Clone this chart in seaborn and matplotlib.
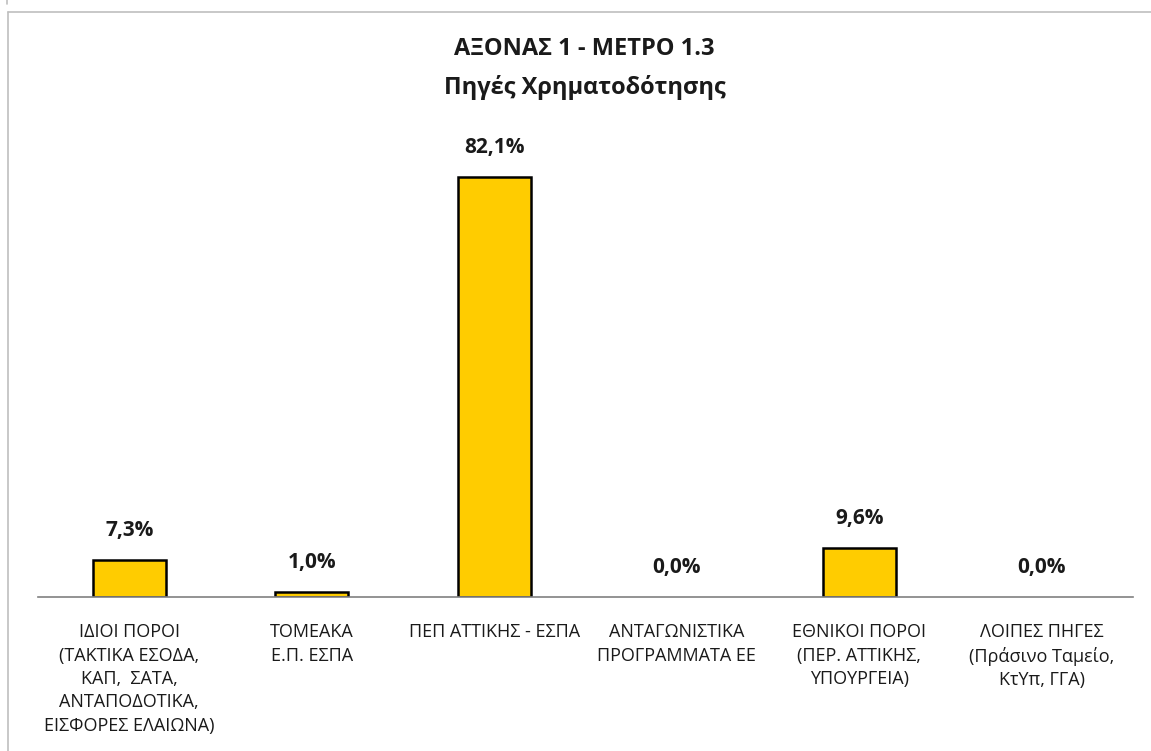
import pandas as pd
import numpy as np
import matplotlib.pyplot as plt
import seaborn as sns
from matplotlib.lines import Line2D

# data
categories = [
    "ΙΔΙΟΙ ΠΟΡΟΙ\n(ΤΑΚΤΙΚΑ ΕΣΟΔΑ,\nΚΑΠ,  ΣΑΤΑ,\nΑΝΤΑΠΟΔΟΤΙΚΑ,\nΕΙΣΦΟΡΕΣ ΕΛΑΙΩΝΑ)",
    "ΤΟΜΕΑΚΑ\nΕ.Π. ΕΣΠΑ",
    "ΠΕΠ ΑΤΤΙΚΗΣ - ΕΣΠΑ",
    "ΑΝΤΑΓΩΝΙΣΤΙΚΑ\nΠΡΟΓΡΑΜΜΑΤΑ ΕΕ",
    "ΕΘΝΙΚΟΙ ΠΟΡΟΙ\n(ΠΕΡ. ΑΤΤΙΚΗΣ,\nΥΠΟΥΡΓΕΙΑ)",
    "ΛΟΙΠΕΣ ΠΗΓΕΣ\n(Πράσινο Ταμείο,\nΚτΥπ, ΓΓΑ)",
]
shares = [7.3, 1.0, 82.1, 0.0, 9.6, 0.0]
title_1 = "ΑΞΟΝΑΣ 1 - ΜΕΤΡΟ 1.3"
title_2 = "Πηγές Χρηματοδότησης"

df = pd.DataFrame({"cat": categories, "share": shares})

sns.set_style("white")
plt.rcParams['font.family'] = ['Open Sans', 'DejaVu Sans']

fig = plt.figure(figsize=(11.51, 7.51), dpi=100)
ax = fig.add_axes([0.033, 0.205, 0.9515, 0.613])

sns.barplot(data=df, x="cat", y="share", color="#FFCC00", saturation=1,
            edgecolor="black", linewidth=1.8, width=0.4, ax=ax)
# empty bars show no outline
for p, v in zip(ax.patches, shares):
    if v == 0:
        p.set_linewidth(0)

ax.set_ylim(0, 90)
ax.set_xlim(-0.5, len(categories) - 0.5)
ax.set_xlabel("")
ax.set_ylabel("")
ax.set_yticks([])
for s in ["top", "right", "left"]:
    ax.spines[s].set_visible(False)
ax.spines["bottom"].set_color("#808080")
ax.spines["bottom"].set_linewidth(1.2)
ax.tick_params(axis="x", length=0, pad=19, labelsize=13, labelcolor="#1a1a1a")
for t in ax.get_xticklabels():
    t.set_linespacing(1.38)
    t.set_va("top")

# value labels
for i, v in enumerate(shares):
    ax.annotate(f"{v:.1f}%".replace(".", ","), (i, v), xytext=(0, 21),
                textcoords="offset points", ha="center", va="center",
                fontsize=15, fontweight="bold", color="#1a1a1a", clip_on=False)

# titles
fig.text(0.508, 0.935, title_1, ha="center", va="center", fontsize=17, fontweight="bold", color="#1a1a1a")
fig.text(0.508, 0.884, title_2, ha="center", va="center", fontsize=17, fontweight="bold", color="#1a1a1a")

# chart frame
fig.add_artist(Line2D([8/1151, 1.0], [1 - 12/751, 1 - 12/751], color="#BFBFBF", lw=1.2))
fig.add_artist(Line2D([8/1151, 8/1151], [0, 1 - 12/751], color="#BFBFBF", lw=1.2))
fig.add_artist(Line2D([7/1151, 7/1151], [1 - 4/751, 1.0], color="#BFBFBF", lw=1.2))

plt.savefig("out.png", dpi=100)
